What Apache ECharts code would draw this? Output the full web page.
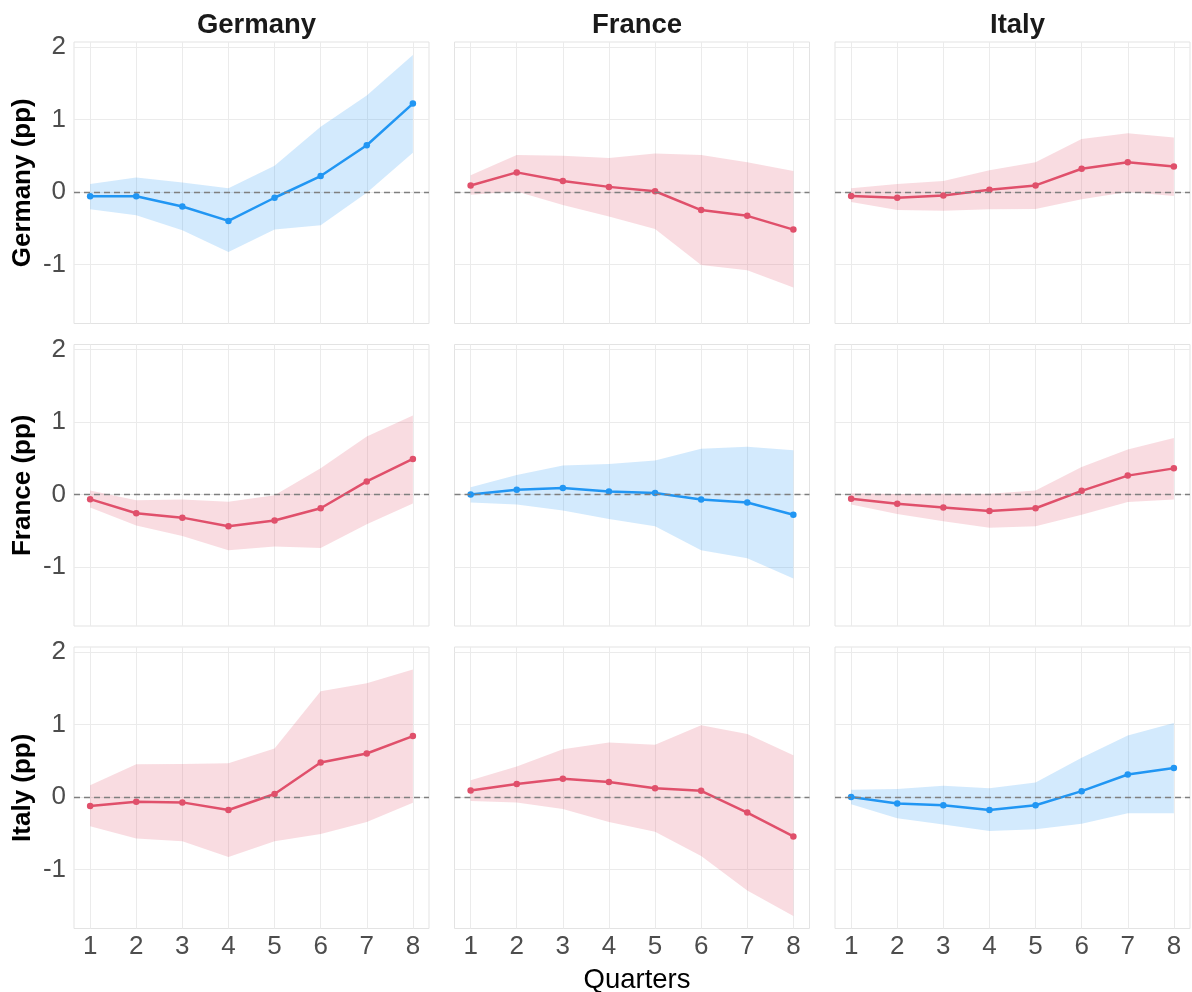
<!DOCTYPE html>
<html>
<head>
<meta charset="utf-8">
<title>Impulse responses</title>
<script src="https://cdn.jsdelivr.net/npm/echarts@6/dist/echarts.min.js"></script>
<style>
  html, body { margin: 0; padding: 0; background: #fff; }
  #chart { width: 1192px; height: 992px; }
</style>
</head>
<body>
<div id="chart"></div>
<script>
// categories
const countries = ["Germany", "France", "Italy"];
const quarters = [1, 2, 3, 4, 5, 6, 7, 8];
const yTicks = [-1, 0, 1, 2];

// response of Germany (row 1) to shocks in Germany / France / Italy (columns)
const deDe = [-0.06, -0.06, -0.20, -0.40, -0.08, 0.22, 0.645, 1.22];
const deDeLo = [-0.24, -0.32, -0.53, -0.83, -0.52, -0.46, -0.01, 0.54];
const deDeHi = [0.11, 0.20, 0.13, 0.05, 0.36, 0.90, 1.33, 1.89];

const deFr = [0.09, 0.27, 0.15, 0.07, 0.01, -0.25, -0.33, -0.52];
const deFrLo = [-0.04, 0.005, -0.18, -0.34, -0.51, -1.01, -1.08, -1.32];
const deFrHi = [0.23, 0.51, 0.50, 0.47, 0.53, 0.51, 0.41, 0.29];

const deIt = [-0.055, -0.08, -0.05, 0.03, 0.09, 0.32, 0.41, 0.35];
const deItLo = [-0.14, -0.25, -0.26, -0.24, -0.235, -0.10, 0.0, -0.055];
const deItHi = [0.05, 0.11, 0.15, 0.30, 0.41, 0.73, 0.81, 0.75];

// response of France (row 2)
const frDe = [-0.065, -0.26, -0.32, -0.44, -0.36, -0.19, 0.18, 0.49];
const frDeLo = [-0.18, -0.43, -0.575, -0.77, -0.72, -0.74, -0.41, -0.125];
const frDeHi = [0.055, -0.08, -0.07, -0.10, -0.01, 0.36, 0.80, 1.09];

const frFr = [0.0, 0.065, 0.09, 0.04, 0.02, -0.07, -0.11, -0.28];
const frFrLo = [-0.11, -0.14, -0.22, -0.34, -0.44, -0.77, -0.88, -1.16];
const frFrHi = [0.10, 0.27, 0.40, 0.42, 0.47, 0.63, 0.66, 0.61];

const frIt = [-0.06, -0.13, -0.18, -0.23, -0.19, 0.05, 0.26, 0.36];
const frItLo = [-0.14, -0.27, -0.37, -0.46, -0.44, -0.28, -0.105, -0.07];
const frItHi = [0.015, 0.005, 0.01, 0.01, 0.055, 0.38, 0.62, 0.78];

// response of Italy (row 3)
const itDe = [-0.125, -0.065, -0.075, -0.18, 0.04, 0.475, 0.60, 0.84];
const itDeLo = [-0.405, -0.575, -0.61, -0.83, -0.61, -0.51, -0.345, -0.08];
const itDeHi = [0.16, 0.45, 0.455, 0.465, 0.67, 1.46, 1.57, 1.76];

const itFr = [0.09, 0.18, 0.25, 0.205, 0.12, 0.085, -0.215, -0.545];
const itFrLo = [-0.055, -0.075, -0.165, -0.345, -0.48, -0.815, -1.29, -1.645];
const itFrHi = [0.23, 0.42, 0.66, 0.75, 0.72, 0.99, 0.87, 0.575];

const itIt = [0.0, -0.09, -0.115, -0.18, -0.115, 0.08, 0.31, 0.40];
const itItLo = [-0.10, -0.295, -0.38, -0.47, -0.445, -0.37, -0.225, -0.225];
const itItHi = [0.10, 0.11, 0.155, 0.12, 0.20, 0.54, 0.85, 1.02];

const panels = [
  [[deDe, deDeLo, deDeHi], [deFr, deFrLo, deFrHi], [deIt, deItLo, deItHi]],
  [[frDe, frDeLo, frDeHi], [frFr, frFrLo, frFrHi], [frIt, frItLo, frItHi]],
  [[itDe, itDeLo, itDeHi], [itFr, itFrLo, itFrHi], [itIt, itItLo, itItHi]]
];

const BLUE = "#2196F3";
const RED = "#E0506B";
const FONT = "Liberation Sans";

const colLeft = [74, 454.5, 835];
const rowTop = [42, 344.5, 647];
const panelW = 355;
const panelH = 281.5;

var myChart = echarts.init(document.getElementById("chart"));

const grid = [], xAxis = [], yAxis = [], series = [], title = [];

for (let r = 0; r < 3; r++) {
  for (let c = 0; c < 3; c++) {
    const k = r * 3 + c;
    const [mid, lo, hi] = panels[r][c];
    const color = r === c ? BLUE : RED;
    const fill = r === c ? "rgba(33,150,243,0.2)" : "rgba(224,80,107,0.2)";

    grid.push({
      left: colLeft[c], top: rowTop[r], width: panelW, height: panelH,
      show: true, borderColor: "#e3e3e3", borderWidth: 1, backgroundColor: "#fff"
    });

    xAxis.push({
      type: "value", gridIndex: k, min: 0.65, max: 8.35,
      axisLine: { show: false },
      axisTick: { show: false, customValues: quarters },
      axisLabel: {
        show: r === 2, customValues: quarters, margin: 5,
        fontSize: 26, color: "#4d4d4d", fontFamily: FONT
      },
      splitLine: { show: true, lineStyle: { color: "#ebebeb", width: 1 } }
    });

    yAxis.push({
      type: "value", gridIndex: k, min: -1.816, max: 2.07,
      name: c === 0 ? countries[r] + " (pp)" : "",
      nameLocation: "middle", nameGap: 38, nameRotate: 90,
      nameTextStyle: { fontSize: 26, fontWeight: "bold", color: "#000", fontFamily: FONT },
      axisLine: { show: false },
      axisTick: { show: false, customValues: yTicks },
      axisLabel: {
        show: c === 0, customValues: yTicks, margin: 8,
        fontSize: 26, color: "#4d4d4d", fontFamily: FONT
      },
      splitLine: { show: true, lineStyle: { color: "#ebebeb", width: 1 } }
    });

    // confidence band
    series.push({
      type: "custom", xAxisIndex: k, yAxisIndex: k, z: 1, silent: true,
      data: quarters.map((q, i) => [q, lo[i], hi[i]]),
      renderItem: function (params, api) {
        if (params.dataIndex !== 0) return;
        const pts = [];
        for (let i = 0; i < quarters.length; i++) pts.push(api.coord([quarters[i], hi[i]]));
        for (let i = quarters.length - 1; i >= 0; i--) pts.push(api.coord([quarters[i], lo[i]]));
        return { type: "polygon", shape: { points: pts }, style: { fill: fill } };
      }
    });

    // point estimate
    series.push({
      type: "line", xAxisIndex: k, yAxisIndex: k, z: 3,
      data: quarters.map((q, i) => [q, mid[i]]),
      symbol: "circle", symbolSize: 6.5,
      lineStyle: { color: color, width: 2.5 },
      itemStyle: { color: color },
      markLine: {
        silent: true, symbol: "none", label: { show: false },
        lineStyle: { color: "#7f7f7f", type: [6, 4], width: 1.3 },
        data: [{ yAxis: 0 }]
      }
    });
  }
}

countries.forEach((name, c) => {
  title.push({
    text: name, left: colLeft[c] + panelW / 2, top: 6, textAlign: "center",
    textStyle: { fontSize: 27.5, fontWeight: "bold", color: "#1a1a1a", fontFamily: FONT }
  });
});
title.push({
  text: "Quarters", left: (colLeft[0] + colLeft[2] + panelW) / 2, top: 961, textAlign: "center",
  textStyle: { fontSize: 27.5, fontWeight: "normal", color: "#000", fontFamily: FONT }
});

var option = {
  animation: false,
  backgroundColor: "#fff",
  title: title,
  grid: grid,
  xAxis: xAxis,
  yAxis: yAxis,
  series: series
};

myChart.setOption(option);
</script>
</body>
</html>
